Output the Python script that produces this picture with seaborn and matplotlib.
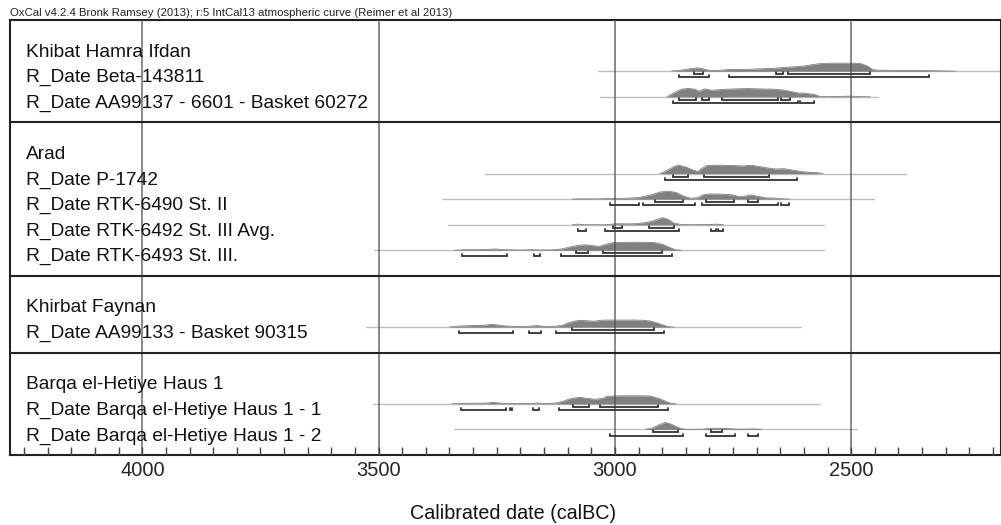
import matplotlib
matplotlib.use("Agg")
import pandas as pd
import matplotlib.pyplot as plt
from matplotlib.ticker import MultipleLocator
from matplotlib.transforms import blended_transform_factory
import seaborn as sns

# calibrated dates (calBC); heights are relative probability (peak ~8)
# Khibat Hamra Ifdan
beta_yr = [2880, 2860, 2840, 2825, 2812, 2800, 2780, 2760, 2740, 2720, 2700, 2680, 2660,
           2640, 2620, 2600, 2580, 2565, 2540, 2500, 2480, 2465, 2455, 2440, 2400, 2360,
           2340, 2300, 2280]
beta_p = [0, 1, 2.5, 3.3, 2.2, 0.8, 0.8, 1.6, 1.8, 1.8, 2.2, 2.6, 3, 3.8, 4.4, 5.2, 6.6,
          7.6, 8, 8, 7.6, 5, 1.5, 1, 0.8, 0.8, 0.6, 0.2, 0]
beta_span = [3035, 2150]
beta_68 = [(2833, 2814), (2659, 2644), (2634, 2460)]
beta_95 = [(2865, 2801), (2759, 2335)]

aa137_yr = [2890, 2875, 2860, 2845, 2830, 2822, 2810, 2795, 2775, 2750, 2720, 2690, 2660,
            2640, 2625, 2610, 2600, 2590, 2578, 2568, 2550, 2500, 2480, 2460]
aa137_p = [0, 4, 7.5, 8.3, 7.5, 5.5, 7.8, 6.5, 7.2, 7.8, 8.2, 7.8, 7.5, 6.5, 5, 3.5, 3.8,
           3, 2.5, 0.5, 0.1, 0.6, 0.1, 0]
aa137_span = [3031, 2443]
aa137_68 = [(2865, 2829), (2816, 2801), (2774, 2655), (2649, 2630)]
aa137_95 = [(2878, 2613), (2608, 2579)]

# Arad
p1742_yr = [2905, 2890, 2875, 2865, 2850, 2835, 2825, 2815, 2805, 2780, 2750, 2730, 2712,
            2695, 2676, 2660, 2642, 2625, 2606, 2590, 2570, 2560]
p1742_p = [0, 3, 7, 8.3, 6.5, 3.5, 2, 5.5, 8, 8.3, 8, 7.5, 8.3, 7, 5.5, 4.5, 4.8, 3.5, 2,
           1.2, 0.8, 0]
p1742_span = [3274, 2384]
p1742_68 = [(2878, 2846), (2812, 2674)]
p1742_95 = [(2893, 2615)]

rtk6490_yr = [3090, 3075, 3040, 3010, 2980, 2950, 2925, 2905, 2888, 2870, 2855, 2840, 2825,
              2812, 2800, 2775, 2750, 2738, 2725, 2712, 2700, 2680, 2660, 2645, 2630]
rtk6490_p = [0, 0.3, 0.2, 0.6, 0.8, 1.5, 4, 7, 8, 6.5, 3, 0.8, 1.5, 4.5, 5.2, 5, 4.2, 2.5,
             3, 4.2, 3, 1.2, 1, 0.3, 0]
rtk6490_span = [3366, 2451]
rtk6490_68 = [(2916, 2855), (2808, 2748), (2719, 2698)]
rtk6490_95 = [(3011, 2948), (2941, 2831), (2816, 2655), (2649, 2632)]

rtk6492_yr = [3090, 3079, 3065, 3020, 3008, 2994, 2970, 2950, 2930, 2915, 2900, 2888, 2875,
              2860, 2840, 2800, 2785, 2770]
rtk6492_p = [0, 0.6, 0, 0, 0.5, 1, 0.8, 1.2, 2.5, 4.5, 7, 5.5, 1.5, 0.3, 0, 0.3, 0.5, 0]
rtk6492_span = [3353, 2557]
rtk6492_68 = [(3003, 2984), (2927, 2874)]
rtk6492_95 = [(3079, 3062), (3022, 2865), (2797, 2787), (2782, 2772)]

rtk6493_yr = [3340, 3320, 3290, 3270, 3253, 3235, 3200, 3175, 3160, 3130, 3110, 3094, 3075,
              3062, 3045, 3033, 3018, 3003, 2970, 2940, 2918, 2900, 2885, 2872, 2860]
rtk6493_p = [0, 0.5, 0.6, 0.8, 1.3, 0.6, 0.3, 0.6, 0.3, 0.5, 1.5, 3.5, 5, 5.5, 4.5, 4, 6,
             7.8, 8, 8, 7.8, 6, 3, 0.5, 0]
rtk6493_span = [3510, 2557]
rtk6493_68 = [(3083, 3056), (3026, 2901)]
rtk6493_95 = [(3323, 3228), (3171, 3158), (3115, 2880)]

# Khirbat Faynan
aa133_yr = [3350, 3330, 3300, 3280, 3260, 3240, 3215, 3190, 3164, 3150, 3125, 3110, 3100,
            3085, 3073, 3060, 3045, 3030, 3020, 2990, 2960, 2940, 2925, 2910, 2895, 2885, 2875]
aa133_p = [0, 1, 1.5, 1.6, 2.8, 1.5, 0.6, 0.6, 1.5, 0.6, 0.8, 2, 4, 6, 6.7, 6.3, 5.8, 6.7,
           7, 7, 7, 6.8, 6, 4, 1.5, 0.3, 0]
aa133_span = [3527, 2607]
aa133_68 = [(3090, 2918)]
aa133_95 = [(3330, 3215), (3181, 3156), (3124, 2897)]

# Barqa el-Hetiye Haus 1
barqa1_yr = [3345, 3320, 3290, 3270, 3257, 3240, 3210, 3175, 3166, 3150, 3125, 3110, 3095,
             3075, 3060, 3041, 3025, 3018, 2990, 2950, 2925, 2905, 2890, 2880, 2870]
barqa1_p = [0, 0.5, 0.6, 0.8, 1.5, 0.6, 0.3, 0.3, 0.8, 0.3, 0.8, 2.5, 5, 6.5, 5.5, 4.5,
            5.5, 7.5, 8, 8, 7.8, 5, 2, 0.3, 0]
barqa1_span = [3512, 2566]
barqa1_68 = [(3088, 3054), (3031, 2908)]
barqa1_95 = [(3325, 3230), (3222, 3218), (3173, 3160), (3118, 2888)]

barqa2_yr = [2935, 2920, 2905, 2893, 2880, 2867, 2855, 2840, 2815, 2800, 2780, 2760, 2742,
             2720, 2705, 2690]
barqa2_p = [0, 1.5, 5, 7, 5, 2, 0.3, 0, 0.2, 1, 1.2, 0.8, 0.3, 0.3, 0.5, 0]
barqa2_span = [3340, 2488]
barqa2_68 = [(2920, 2867), (2797, 2774)]
barqa2_95 = [(3011, 2855), (2808, 2746), (2719, 2698)]

labels = ["Khibat Hamra Ifdan", "R_Date Beta-143811", "R_Date AA99137 - 6601 - Basket 60272",
          "Arad", "R_Date P-1742", "R_Date RTK-6490 St. II", "R_Date RTK-6492 St. III Avg.",
          "R_Date RTK-6493 St. III.",
          "Khirbat Faynan", "R_Date AA99133 - Basket 90315",
          "Barqa el-Hetiye Haus 1", "R_Date Barqa el-Hetiye Haus 1 - 1",
          "R_Date Barqa el-Hetiye Haus 1 - 2"]
label_rows = [0, 1, 2, 4, 5, 6, 7, 8, 10, 11, 13, 14, 15]
group_breaks = [3, 9, 12]
tick_years = [4000, 3500, 3000, 2500]

dates = {
    1: (beta_yr, beta_p, beta_span, beta_68, beta_95),
    2: (aa137_yr, aa137_p, aa137_span, aa137_68, aa137_95),
    5: (p1742_yr, p1742_p, p1742_span, p1742_68, p1742_95),
    6: (rtk6490_yr, rtk6490_p, rtk6490_span, rtk6490_68, rtk6490_95),
    7: (rtk6492_yr, rtk6492_p, rtk6492_span, rtk6492_68, rtk6492_95),
    8: (rtk6493_yr, rtk6493_p, rtk6493_span, rtk6493_68, rtk6493_95),
    11: (aa133_yr, aa133_p, aa133_span, aa133_68, aa133_95),
    14: (barqa1_yr, barqa1_p, barqa1_span, barqa1_68, barqa1_95),
    15: (barqa2_yr, barqa2_p, barqa2_span, barqa2_68, barqa2_95),
}

sns.set_theme(style="white")
plt.rcParams["font.family"] = ["Liberation Sans", "DejaVu Sans"]

fig = plt.figure(figsize=(10.01, 5.25), dpi=100)
ax = fig.add_axes([10 / 1001, 70 / 525, 991 / 1001, 435 / 525])

scale = 1 / 25.5  # one probability unit ~ one pixel
for row, (yr, p, span, r68, r95) in dates.items():
    # thin baseline over the whole calibrated range
    ax.plot(span, [row, row], color="#bdbdbd", lw=1.0, zorder=1)
    df = pd.DataFrame({"year": yr, "y": [row - v * scale for v in p]})
    ax.fill_between(df["year"], row, df["y"], color="#808080", lw=0, zorder=2)
    sns.lineplot(data=df, x="year", y="y", ax=ax, color="#808080", lw=0.6,
                 sort=False, zorder=2)
    # 68.2% and 95.4% ranges
    for level, ranges in ((0.12, r68), (0.24, r95)):
        for a, b in ranges:
            y = row + level
            ax.plot([a, a, b, b], [y - 0.08, y, y, y - 0.08], color="#333333",
                    lw=1.3, solid_joinstyle="miter", zorder=3)

trans = blended_transform_factory(ax.transAxes, ax.transData)
for text, row in zip(labels, label_rows):
    ax.text(16 / 991, row + 0.43, text, transform=trans, fontsize=13.8,
            color="#111111", va="baseline", ha="left")

for b in group_breaks:
    ax.axhline(b, color="#222222", lw=1.5, zorder=4)

ax.set_xlim(4280, 2183)
ax.set_ylim(16, -1)
ax.set_xticks(tick_years)
ax.set_xticklabels([str(t) for t in tick_years])
ax.xaxis.set_minor_locator(MultipleLocator(50))
ax.set_yticks([])
ax.grid(axis="x", which="major", color="#505050", lw=1.1, alpha=0.85)
ax.set_axisbelow(False)
ax.tick_params(axis="x", which="both", direction="in", length=6, width=1,
               color="#444444", bottom=True, labelsize=14.5, pad=4)
for s in ax.spines.values():
    s.set_color("#222222")
    s.set_linewidth(1.5)
ax.set_xlabel("Calibrated date (calBC)", fontsize=14.2, color="#111111")
ax.xaxis.set_label_coords(0.508, -0.112)
ax.set_ylabel("")

fig.text(10 / 1001, 1 - 16 / 525,
         "OxCal v4.2.4 Bronk Ramsey (2013); r:5 IntCal13 atmospheric curve (Reimer et al 2013)",
         fontsize=8.2, color="#222222", va="baseline", ha="left")

fig.savefig("out.png", dpi=100, facecolor="white")
